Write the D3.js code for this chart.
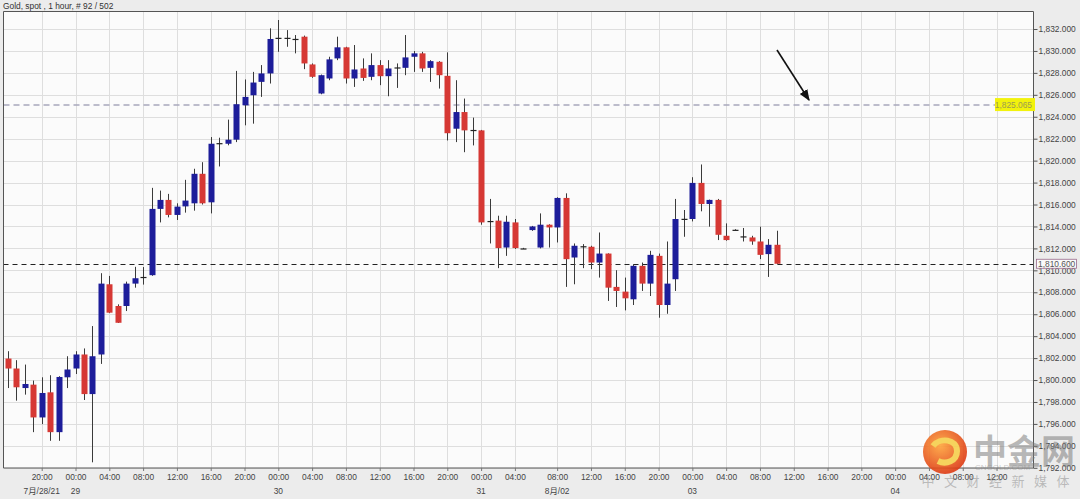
<!DOCTYPE html>
<html><head><meta charset="utf-8">
<script src="https://cdn.jsdelivr.net/npm/d3@7"></script>
<style>
html,body{margin:0;padding:0;background:#ececec;}
svg{display:block;}
text{font-family:"Liberation Sans",Arial,"Noto Sans CJK SC",sans-serif;}
</style></head><body>
<svg id="chart" width="1080" height="499"></svg>
<script>
const title = "Gold, spot , 1 hour, # 92 / 502";
const firstSlot = -4;
const open = [1801.96,1801.05,1799.27,1799.58,1796.59,1798.88,1795.25,1800.25,1801.05,1802.33,1798.72,1802.33,1808.73,1806.75,1806.75,1808.79,1809.4,1809.56,1815.6,1816.42,1815.05,1815.83,1816.11,1818.8,1816.2,1821.6,1821.54,1821.91,1825.05,1825.96,1827.18,1827.95,1831.2,1831.2,1831.1,1831.3,1828.77,1826.12,1827.49,1829.32,1830.33,1827.49,1828.4,1827.64,1828.71,1827.7,1828.5,1828.46,1829.47,1829.78,1828.46,1829.01,1827.73,1822.91,1824.43,1822.8,1822.76,1814.5,1814.53,1812.08,1814.37,1812.0,1813.67,1812.08,1814.16,1813.91,1816.6,1811.17,1812.2,1812.15,1810.71,1811.53,1808.49,1808.06,1807.36,1810.41,1808.79,1811.32,1806.84,1809.19,1814.7,1814.68,1817.97,1816.05,1816.42,1813.15,1813.7,1813.1,1813.0,1812.63,1811.48,1812.33];
const high = [1802.63,1801.81,1801.41,1799.95,1800.25,1800.44,1800.35,1802.17,1802.63,1802.88,1804.92,1809.74,1809.49,1806.9,1808.97,1810.32,1810.3,1817.52,1817.27,1816.97,1816.11,1818.25,1819.26,1819.86,1822.15,1822.09,1823.74,1828.18,1827.4,1828.09,1828.71,1832.06,1832.82,1831.9,1831.45,1831.4,1828.86,1827.85,1829.47,1831.3,1830.38,1830.54,1829.32,1829.78,1829.16,1829.16,1828.86,1831.45,1829.99,1829.92,1829.16,1829.07,1829.87,1827.33,1825.66,1823.92,1822.8,1816.51,1814.98,1814.98,1814.68,1812.05,1814.05,1815.19,1814.2,1816.66,1817.02,1812.45,1812.39,1812.24,1813.45,1811.55,1810.01,1809.34,1810.56,1810.71,1811.78,1811.53,1812.63,1816.51,1815.5,1818.49,1819.65,1816.45,1816.51,1814.28,1813.75,1813.86,1813.15,1813.98,1812.85,1813.61];
const low = [1799.27,1798.12,1798.67,1795.25,1795.98,1794.46,1794.46,1799.27,1800.55,1798.18,1792.5,1801.47,1806.1,1805.2,1806.29,1808.42,1808.7,1809.5,1814.37,1814.83,1814.59,1815.26,1815.44,1816.0,1815.19,1819.47,1821.4,1821.69,1823.22,1823.37,1825.81,1827.03,1829.92,1830.38,1829.78,1828.34,1827.55,1826.05,1827.33,1829.16,1827.03,1826.72,1827.27,1827.33,1826.88,1825.87,1826.63,1827.79,1828.09,1828.09,1827.18,1826.57,1821.84,1821.69,1820.77,1821.39,1814.16,1812.45,1810.2,1811.32,1811.95,1811.95,1813.6,1812.0,1812.08,1812.54,1808.49,1808.73,1810.2,1810.11,1809.34,1807.21,1806.66,1806.35,1806.84,1808.12,1807.66,1805.68,1806.04,1808.12,1813.06,1814.46,1815.38,1813.98,1812.76,1812.7,1813.65,1812.63,1812.33,1811.02,1809.4,1810.55];
const close = [1801.05,1799.34,1799.64,1796.59,1798.82,1795.25,1800.28,1800.96,1802.33,1798.72,1802.17,1808.79,1806.14,1805.22,1808.79,1809.28,1809.4,1815.6,1816.42,1815.05,1815.81,1816.36,1818.8,1816.11,1821.54,1821.6,1821.91,1825.14,1825.81,1827.12,1827.95,1831.09,1831.2,1831.2,1831.1,1828.86,1827.64,1827.79,1829.23,1830.33,1827.49,1828.31,1827.54,1828.71,1827.7,1828.4,1828.5,1829.41,1829.78,1828.4,1829.07,1827.79,1822.5,1824.43,1822.76,1822.8,1814.37,1814.5,1812.03,1814.43,1812.03,1812.0,1814.0,1814.16,1813.91,1816.6,1811.02,1812.24,1812.2,1810.71,1811.53,1808.42,1808.12,1807.45,1810.41,1808.79,1811.41,1806.84,1808.79,1814.68,1814.7,1817.97,1816.05,1816.42,1813.24,1812.76,1813.7,1813.1,1812.63,1811.41,1812.33,1810.6];

const yTicks = [1792,1794,1796,1798,1800,1802,1804,1806,1808,1810,1812,1814,1816,1818,1820,1822,1824,1826,1828,1830,1832];
const xTickSlots = [0,4,8,12,16,20,24,28,32,36,40,44,48,52,56,61,65,69,73,77,81,85,89,93,97,101,105,109,113];
const xTickTimes = ["20:00","00:00","04:00","08:00","12:00","16:00","20:00","00:00","04:00","08:00","12:00","16:00","20:00","00:00","04:00","08:00","12:00","16:00","20:00","00:00","04:00","08:00","12:00","16:00","20:00","00:00","04:00","08:00","12:00"];
const xTickDates = ["7月/28/21","29","","","","","","30","","","","","","31","","8月/02","","","","03","","","","","","04","","",""];
const refLevel = 1825.065;
const lastPrice = 1810.6;
const watermarkName = "中金网";
const watermarkSite = "CNGOLD.COM";
const watermarkSlogan = ["中","文","财","经","新","媒","体"];

const svg = d3.select("#chart");
const plot = {left:3.5, right:1033.5, top:11.5, bottom:468};

const x = d3.scaleLinear().domain([0,100]).range([41.7,886.7]);
const y = d3.scaleLinear().domain([1792,1832]).range([467.8,29]);

// plot background
svg.append("rect").attr("x",plot.left).attr("y",plot.top)
  .attr("width",plot.right-plot.left).attr("height",plot.bottom-plot.top)
  .attr("fill","#fbfbfb");

// grid
const grid = svg.append("g").attr("stroke","#dedede").attr("stroke-width",1);
grid.selectAll("line.h").data(yTicks).join("line")
  .attr("x1",plot.left).attr("x2",plot.right)
  .attr("y1",d=>Math.round(y(d))+0.5).attr("y2",d=>Math.round(y(d))+0.5);
grid.selectAll("line.v").data(xTickSlots).join("line")
  .attr("x1",d=>Math.round(x(d))+0.5).attr("x2",d=>Math.round(x(d))+0.5)
  .attr("y1",plot.top).attr("y2",plot.bottom);

// reference dashed line
svg.append("line").attr("x1",plot.left).attr("x2",plot.right)
  .attr("y1",y(refLevel)).attr("y2",y(refLevel))
  .attr("stroke","#a8a8bc").attr("stroke-width",1.5).attr("stroke-dasharray","6,4");
// last price dashed line
svg.append("line").attr("x1",plot.left).attr("x2",plot.right)
  .attr("y1",Math.round(y(lastPrice))+0.5).attr("y2",Math.round(y(lastPrice))+0.5)
  .attr("stroke","#222").attr("stroke-width",1).attr("stroke-dasharray","5,4");

// candles
const candles = open.map((o,i)=>({slot:firstSlot+i,o,h:high[i],l:low[i],c:close[i]}));
const cg = svg.append("g");
cg.selectAll("line").data(candles).join("line")
  .attr("x1",d=>Math.round(x(d.slot))+0.5).attr("x2",d=>Math.round(x(d.slot))+0.5)
  .attr("y1",d=>y(d.h)).attr("y2",d=>y(d.l))
  .attr("stroke","#3a3a3a").attr("stroke-width",1);
const bw = 5;
cg.selectAll("rect").data(candles).join("rect")
  .attr("x",d=>Math.round(x(d.slot))+0.5-bw/2-0.5)
  .attr("width",bw+1)
  .attr("y",d=>y(Math.max(d.o,d.c)))
  .attr("height",d=>Math.max(1.2,Math.abs(y(d.o)-y(d.c))))
  .attr("fill",d=>d.c>d.o?"#1d1d9a":(d.c<d.o?"#d63834":"#222"));

// border
svg.append("path")
  .attr("d",`M${plot.right},${plot.top}H${plot.left}V${plot.bottom}H${plot.right}V${plot.top}`)
  .attr("fill","none").attr("stroke","#555").attr("stroke-width",1);

// right axis
const ay = svg.append("g").attr("transform",`translate(${plot.right},0)`)
  .call(d3.axisRight(y).tickValues(yTicks).tickFormat(d3.format(",.3f")).tickSize(4).tickPadding(1));
ay.select(".domain").remove();
ay.selectAll("line").attr("stroke","#555");
ay.selectAll("text").attr("fill","#444").style("font-size","8.4px").attr("font-family",null);

// bottom axis
const ax = svg.append("g").attr("transform",`translate(0,${plot.bottom})`)
  .call(d3.axisBottom(x).tickValues(xTickSlots).tickFormat((d,i)=>xTickTimes[i]).tickSize(3).tickPadding(3));
ax.select(".domain").remove();
ax.selectAll("line").attr("stroke","#777");
ax.selectAll("text").attr("fill","#444").style("font-size","8.4px").attr("font-family",null);
svg.append("g").selectAll("text").data(xTickSlots).join("text")
  .attr("x",d=>x(d)).attr("y",494)
  .attr("text-anchor","middle").attr("fill","#444").style("font-size","8.4px")
  .text((d,i)=>xTickDates[i]);

// title
svg.append("text").attr("x",3).attr("y",8.5).attr("fill","#333").style("font-size","8.4px").text(title);

// ref label (yellow)
const ry = y(refLevel);
svg.append("rect").attr("x",995).attr("y",ry-7).attr("width",40).attr("height",13).attr("fill","#f2f20c");
svg.append("text").attr("x",1032).attr("y",ry+3).attr("text-anchor","end")
  .attr("fill","#9c9c52").style("font-size","8.4px").text(d3.format(",.3f")(refLevel));

// last price label
const ly = y(lastPrice);
svg.append("rect").attr("x",1036.5).attr("y",ly-4.5).attr("width",40).attr("height",9)
  .attr("fill","#fafafa").attr("stroke","#9a6a8a").attr("stroke-width",0.8);
svg.append("text").attr("x",1038).attr("y",ly+3).attr("fill","#555").style("font-size","8.4px")
  .text(d3.format(",.3f")(lastPrice));

// arrow
const defs = svg.append("defs");
defs.append("marker").attr("id","ah").attr("viewBox","0 0 10 10").attr("refX",9).attr("refY",5)
  .attr("markerWidth",7).attr("markerHeight",7).attr("orient","auto")
  .append("path").attr("d","M0,1L10,5L0,9Z").attr("fill","#111");
svg.append("line").attr("x1",777).attr("y1",50).attr("x2",809).attr("y2",100)
  .attr("stroke","#111").attr("stroke-width",1.6).attr("marker-end","url(#ah)");

// watermark
const grad = defs.append("radialGradient").attr("id","wg").attr("cx","40%").attr("cy","35%").attr("r","70%");
grad.append("stop").attr("offset","0%").attr("stop-color","#ffa43a");
grad.append("stop").attr("offset","100%").attr("stop-color","#dc3412");
const wm = svg.append("g").attr("opacity",0.9);
wm.append("circle").attr("cx",945).attr("cy",452).attr("r",22).attr("fill","url(#wg)");
wm.append("path").attr("d","M933,446 C940,437 957,439 957,451 C957,461 946,465 938,461")
  .attr("fill","none").attr("stroke","#f6cf4c").attr("stroke-width",6);
wm.append("text").attr("x",973).attr("y",464).attr("fill","rgba(125,125,125,0.6)")
  .style("font-size","34px").style("font-weight","bold").style("font-family","'Noto Sans CJK SC'").text(watermarkName);
wm.append("text").attr("x",975).attr("y",470).attr("fill","rgba(130,130,130,0.45)")
  .style("font-size","8px").text(watermarkSite);
wm.selectAll("text.slogan").data(watermarkSlogan).join("text").attr("class","slogan")
  .attr("x",(d,i)=>928+i*22.5).attr("y",486).attr("text-anchor","middle")
  .attr("fill","rgba(125,125,125,0.5)")
  .style("font-size","13px").style("font-family","'Noto Sans CJK SC'").text(d=>d);
</script></body></html>
